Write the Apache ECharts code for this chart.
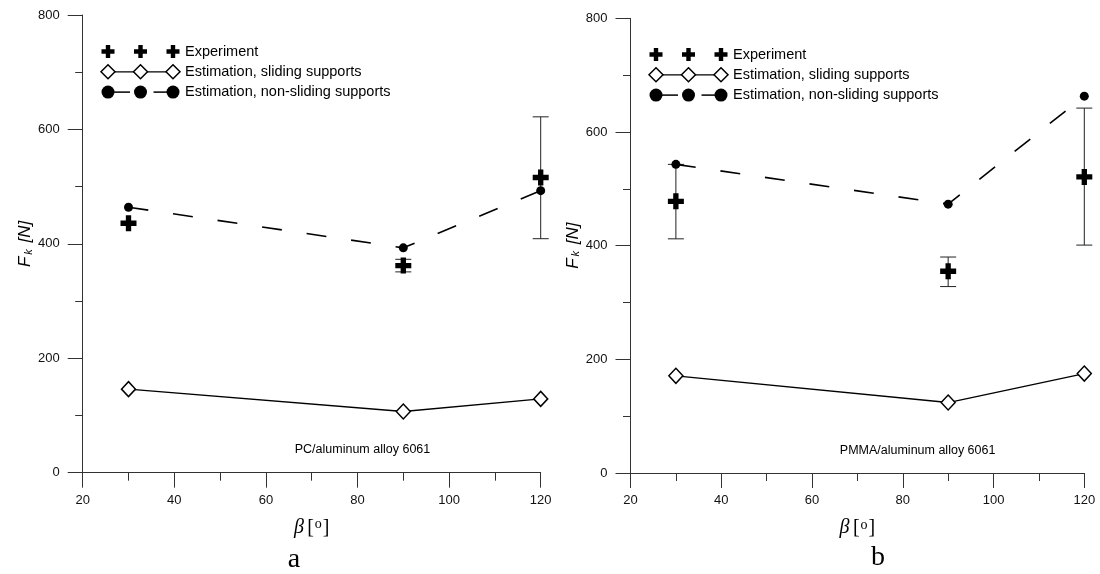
<!DOCTYPE html>
<html>
<head>
<meta charset="utf-8">
<script src="https://cdn.jsdelivr.net/npm/echarts@6/dist/echarts.min.js"></script>
<style>
html,body{margin:0;padding:0;background:#fff;}
#c{width:1100px;height:574px;}
</style>
</head>
<body>
<div id="c"></div>
<script>
// ---- data ----
const betaValues = [30, 90, 120];
const xTicks = [20, 40, 60, 80, 100, 120];
const yTicks = [0, 200, 400, 600, 800];

// Panel a: PC/aluminum alloy 6061
const expA = [436, 362, 516];
const errLowA = [null, 351, 409];
const errHighA = [null, 373, 622];
const slidingA = [146, 107, 129];
const nonSlidingA = [464, 393, 493];

// Panel b: PMMA/aluminum alloy 6061
const expB = [478, 355, 521];
const errLowB = [412, 328, 401];
const errHighB = [543, 380, 642];
const slidingB = [171, 124, 175];
const nonSlidingB = [543, 473, 663];

const legendLabels = ['Experiment', 'Estimation, sliding supports', 'Estimation, non-sliding supports'];
const panelNotes = ['PC/aluminum alloy 6061', 'PMMA/aluminum alloy 6061'];
const panelLetters = ['a', 'b'];

// ---- helpers ----
const pairs = (ys) => betaValues.map((x, i) => [x, ys[i]]);
const errPairs = (lo, hi) => betaValues.map((x, i) => [x, lo[i], hi[i]]).filter(d => d[1] != null);
const crossPath = 'path://M5,0H10V5H15V10H10V15H5V10H0V5H5Z';
const SANS = 'Arial, "Liberation Sans", sans-serif';
const SERIF = '"Liberation Serif", "Times New Roman", serif';

function xAxisCfg(gi) {
  return {
    type: 'value', gridIndex: gi, min: 20, max: 120, interval: 20,
    axisLine: { lineStyle: { color: '#333', width: 1 } },
    axisTick: { show: true, inside: false, length: 15, lineStyle: { color: '#333' } },
    minorTick: { show: true, splitNumber: 2, length: 8, lineStyle: { color: '#333' } },
    splitLine: { show: false },
    axisLabel: { margin: 21, fontSize: 13, color: '#111', fontFamily: SANS,
      formatter: v => xTicks.includes(v) ? String(v) : '' },
    name: '{b|β} {t|[}{s|o}{t|]}',
    nameLocation: 'middle', nameGap: 45,
    nameTextStyle: { rich: {
      b: { fontFamily: SERIF, fontStyle: 'italic', fontSize: 20, color: '#000' },
      t: { fontFamily: SERIF, fontSize: 20, color: '#000' },
      s: { fontFamily: SERIF, fontSize: 14, color: '#000', verticalAlign: 'top', padding: [0, 1, 6, 1] }
    } }
  };
}
function yAxisCfg(gi) {
  return {
    type: 'value', gridIndex: gi, min: 0, max: 800, interval: 200,
    axisLine: { show: true, lineStyle: { color: '#333', width: 1 } },
    axisTick: { show: true, inside: false, length: 15, lineStyle: { color: '#333' } },
    minorTick: { show: true, splitNumber: 2, length: 7.5, lineStyle: { color: '#333' } },
    splitLine: { show: false },
    axisLabel: { margin: 23, fontSize: 13, color: '#111', fontFamily: SANS,
      formatter: v => yTicks.includes(v) ? String(v) : '' },
    name: '{f|F}{k|k}{f| [N]}',
    nameLocation: 'middle', nameGap: 39, nameRotate: 90,
    nameTextStyle: { rich: {
      f: { fontFamily: SANS, fontStyle: 'italic', fontSize: 17, color: '#000' },
      k: { fontFamily: SANS, fontStyle: 'italic', fontSize: 11, color: '#000', verticalAlign: 'bottom', padding: [6, 2, 0, 2] }
    } }
  };
}
function errSeries(gi, lo, hi) {
  return {
    type: 'custom', xAxisIndex: gi, yAxisIndex: gi, z: 1,
    data: errPairs(lo, hi),
    encode: { x: 0, y: [1, 2] },
    renderItem: function (params, api) {
      const x = api.value(0);
      const top = api.coord([x, api.value(2)]);
      const bot = api.coord([x, api.value(1)]);
      const h = 8;
      const st = { stroke: '#222', lineWidth: 1 };
      return { type: 'group', children: [
        { type: 'line', shape: { x1: top[0], y1: top[1], x2: bot[0], y2: bot[1] }, style: st },
        { type: 'line', shape: { x1: top[0] - h, y1: top[1], x2: top[0] + h, y2: top[1] }, style: st },
        { type: 'line', shape: { x1: bot[0] - h, y1: bot[1], x2: bot[0] + h, y2: bot[1] }, style: st }
      ] };
    }
  };
}
function panelSeries(gi, exp, lo, hi, sliding, nonSliding) {
  return [
    errSeries(gi, lo, hi),
    { type: 'line', xAxisIndex: gi, yAxisIndex: gi, data: pairs(sliding), z: 2,
      symbol: 'diamond', symbolSize: [14, 15], showSymbol: true,
      lineStyle: { color: '#000', width: 1.3 },
      itemStyle: { color: '#fff', borderColor: '#000', borderWidth: 1.5 } },
    { type: 'line', xAxisIndex: gi, yAxisIndex: gi, data: pairs(nonSliding), z: 3,
      symbol: 'circle', symbolSize: 9, showSymbol: true,
      lineStyle: { color: '#000', width: 1.6, type: [20, 25] },
      itemStyle: { color: '#000' } },
    { type: 'scatter', xAxisIndex: gi, yAxisIndex: gi, data: pairs(exp), z: 4,
      symbol: crossPath, symbolSize: 16, itemStyle: { color: '#000', opacity: 1 } }
  ];
}
function legendGraphic(x0, y0) {
  const dx = 32.5, dy = 20.3, xs = [x0, x0 + dx, x0 + 2 * dx];
  const els = [];
  const c = 6.5, t = 2.2;
  xs.forEach(x => {
    els.push({ type: 'polygon', shape: { points: [
      [x - t, y0 - c], [x + t, y0 - c], [x + t, y0 - t], [x + c, y0 - t], [x + c, y0 + t], [x + t, y0 + t],
      [x + t, y0 + c], [x - t, y0 + c], [x - t, y0 + t], [x - c, y0 + t], [x - c, y0 - t], [x - t, y0 - t]] },
      style: { fill: '#000' } });
  });
  const y1 = y0 + dy;
  els.push({ type: 'line', shape: { x1: xs[0], y1: y1, x2: xs[2], y2: y1 }, style: { stroke: '#000', lineWidth: 1.2 } });
  xs.forEach(x => {
    els.push({ type: 'polygon', shape: { points: [[x, y1 - 7], [x + 7, y1], [x, y1 + 7], [x - 7, y1]] },
      style: { fill: '#fff', stroke: '#000', lineWidth: 1.5 }, z: 2 });
  });
  const y2 = y0 + 2 * dy;
  els.push({ type: 'line', shape: { x1: xs[0], y1: y2, x2: xs[0] + 22, y2: y2 }, style: { stroke: '#000', lineWidth: 1.5 } });
  els.push({ type: 'line', shape: { x1: xs[1] + 13, y1: y2, x2: xs[2], y2: y2 }, style: { stroke: '#000', lineWidth: 1.5 } });
  xs.forEach(x => {
    els.push({ type: 'circle', shape: { cx: x, cy: y2, r: 6.5 }, style: { fill: '#000' }, z: 2 });
  });
  legendLabels.forEach((lab, i) => {
    els.push({ type: 'text', x: x0 + 77, y: y0 + i * dy,
      style: { text: lab, font: '14.5px ' + SANS, fill: '#000', verticalAlign: 'middle', align: 'left' } });
  });
  return els;
}
function textEl(x, y, text, font) {
  return { type: 'text', x: x, y: y, style: { text: text, font: font, fill: '#000', align: 'center', verticalAlign: 'middle' } };
}

const chart = echarts.init(document.getElementById('c'), null, { renderer: 'canvas' });
chart.setOption({
  animation: false,
  backgroundColor: '#fff',
  grid: [
    { left: 82.7, top: 15, width: 458, height: 457.7 },
    { left: 630.5, top: 18.3, width: 453.8, height: 454.7 }
  ],
  xAxis: [xAxisCfg(0), xAxisCfg(1)],
  yAxis: [yAxisCfg(0), yAxisCfg(1)],
  series: [].concat(
    panelSeries(0, expA, errLowA, errHighA, slidingA, nonSlidingA),
    panelSeries(1, expB, errLowB, errHighB, slidingB, nonSlidingB)
  ),
  graphic: [].concat(
    legendGraphic(108, 51.5),
    legendGraphic(656, 54.5),
    [
      textEl(362.5, 450, panelNotes[0], '12.5px ' + SANS),
      textEl(917.6, 451, panelNotes[1], '12.5px ' + SANS),
      textEl(294, 560, panelLetters[0], '28px ' + SERIF),
      textEl(878, 558, panelLetters[1], '28px ' + SERIF)
    ]
  )
});
</script>
</body>
</html>
